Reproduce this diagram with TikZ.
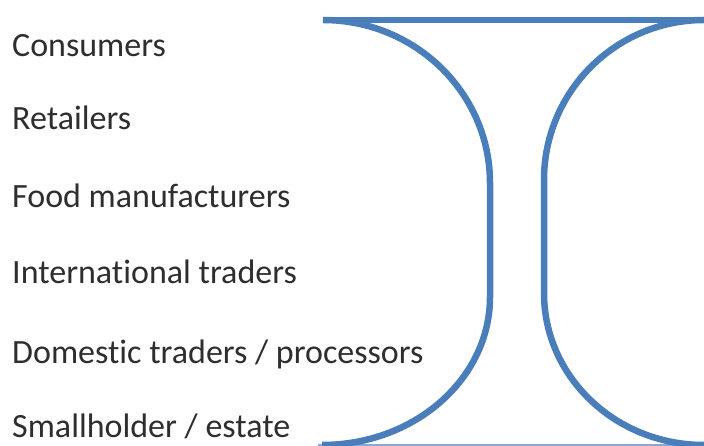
\documentclass[tikz,border=0pt]{standalone}
\usepackage{fontspec}
\setmainfont{Carlito}[Ligatures=NoCommon]
\usepackage{tikz}
\usetikzlibrary{
  positioning,
}
\definecolor{rimblue}{HTML}{4A7EBB}
\definecolor{baseblue}{HTML}{8AA8D6}
\definecolor{labelgrey}{HTML}{2E2E2E}

\begin{document}
\begin{tikzpicture}[
  x=1pt, y=-1pt,
  tier/.style={anchor=base west, inner sep=0pt, text=labelgrey, font=\fontsize{34}{37}\selectfont},
  rim/.style={rimblue, line width=6.5pt},
  floor/.style={baseblue, line width=1.5pt},
]
\useasboundingbox (0,0) rectangle (704,446);
\foreach \name/\txt/\yy in {consumers/{Consumers}/57, retailers/{Retailers}/130,
    manufacturers/{Food manufacturers}/208, international/{International traders}/284,
    domestic/{Domestic traders / processors}/363, smallholder/{Smallholder / estate}/437}
  \node[tier] (\name) at (12,\yy) {\txt};
\draw[floor] (318,445) -- (704,445);
\draw[rim] (323,20) -- (704,20);
\draw[rim] (323,20) arc[start angle=90, end angle=0, x radius=167pt, y radius=163pt]
  -- (490,297) arc[start angle=0, end angle=-90, x radius=168pt, y radius=148pt];
\draw[rim] (704,20) arc[start angle=90, end angle=180, x radius=160pt, y radius=160pt]
  -- (544,293) arc[start angle=180, end angle=270, x radius=160pt, y radius=152pt];
\end{tikzpicture}
\end{document}
